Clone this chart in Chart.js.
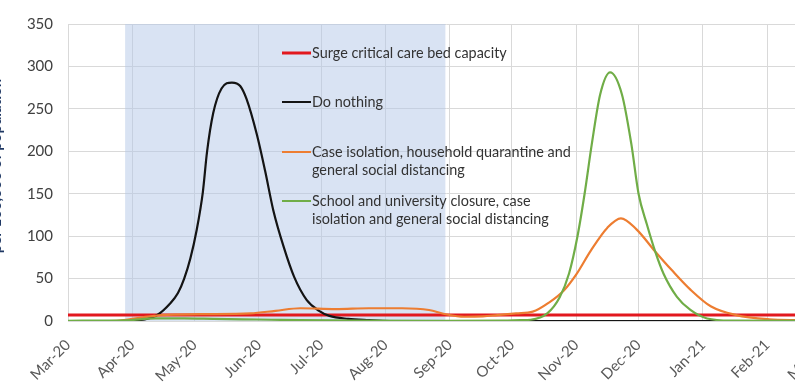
<!DOCTYPE html>
<html><head><meta charset="utf-8">
<script src="https://cdn.jsdelivr.net/npm/chart.js@4.4.1/dist/chart.umd.min.js"></script>
<style>
html,body{margin:0;padding:0;background:#fff;overflow:hidden;width:795px;height:385px}
#wrap{position:absolute;left:0;top:0;width:853px;height:385px}
canvas{display:block}
</style></head><body>
<div id="wrap"><canvas id="c" width="853" height="385"></canvas></div>
<script>
// Days counted from 1 March 2020
const monthDays = [0, 31, 61, 92, 122, 153, 184, 214, 245, 275, 306, 337, 365];
const monthLabels = ['Mar-20','Apr-20','May-20','Jun-20','Jul-20','Aug-20','Sep-20','Oct-20','Nov-20','Dec-20','Jan-21','Feb-21','Mar-21'];
const yTickValues = [0, 50, 100, 150, 200, 250, 300, 350];

const shadeDays = [27.5, 182];
const shadeValues = [350, 350];

const surgeDays = [0, 365];
const surgeValues = [7, 7];

const doNothingDays   = [0, 25, 31, 37, 43, 49, 53, 56, 59, 62, 65, 67, 70, 74, 79, 83, 86, 91, 95, 99, 104, 109, 115, 121, 126, 135, 145, 155, 365];
const doNothingValues = [0, 0, 0.5, 2, 7, 20, 33, 50, 74, 107, 152, 199, 245, 274, 281, 277, 262, 220, 177, 130, 87, 52, 25, 12, 6, 2.5, 1, 0, 0];

const caseIsolationDays   = [0, 20, 27, 35, 45, 64, 88, 100, 112, 129, 145, 161, 174, 182, 191, 200, 207, 216, 224, 232, 239, 245, 252, 260, 266.5, 274, 283, 291, 300, 310, 322, 338, 352, 365];
const caseIsolationValues = [0, 0, 1, 4, 7, 8, 9, 12, 15, 14, 15, 15, 13, 8, 5, 5.5, 7, 9, 11, 22, 36, 55, 83, 110, 121, 108, 82, 60, 37, 17, 7, 2, 1, 0.5];

const schoolDays   = [0, 28, 42, 56, 70, 84, 98, 112, 140, 182, 210, 218, 223, 231, 237, 241.5, 245.5, 249, 252.5, 256.5, 261.3, 267, 271.5, 275, 279, 283, 287, 293.5, 300, 308, 320, 365];
const schoolValues = [0.3, 0.8, 3, 3, 2.5, 2, 1.5, 1, 0.5, 0.3, 0.5, 1, 1.5, 9, 28, 56, 99, 150, 209, 267, 293, 267, 209, 150, 114, 82, 56, 28.5, 13, 3, 0.5, 0.2];

const pts = (xs, ys) => xs.map((x, i) => ({x, y: ys[i]}));

const legendItems = [
  {lines: ['Surge critical care bed capacity'], color: 'rgb(226,24,30)', width: 3},
  {lines: ['Do nothing'], color: '#141414', width: 2},
  {lines: ['Case isolation, household quarantine and', 'general social distancing'], color: '#ed7d31', width: 2},
  {lines: ['School and university closure, case', 'isolation and general social distancing'], color: '#70ad47', width: 2}
];
const yAxisTitle = ['Critical care beds occupied', 'per 100,000 of population'];

const overlay = {
  id: 'overlay',
  afterDatasetsDraw(chart) {
    const ctx = chart.ctx;
    ctx.save();
    const lx = 282, lineLen = 29, tx = 312;
    const rowY = [53, 102, 152, 201];
    ctx.font = '14.4px Lato';
    ctx.textBaseline = 'middle';
    ctx.textAlign = 'left';
    legendItems.forEach((it, i) => {
      const y = rowY[i];
      ctx.strokeStyle = it.color;
      ctx.lineWidth = it.width;
      ctx.beginPath(); ctx.moveTo(lx, y); ctx.lineTo(lx + lineLen, y); ctx.stroke();
      ctx.fillStyle = '#333333';
      it.lines.forEach((t, j) => ctx.fillText(t, tx, y + j * 18.5));
    });
    ctx.restore();
  },
  afterDraw(chart) {
    const ctx = chart.ctx;
    ctx.save();
    ctx.font = 'bold 15px Lato';
    ctx.fillStyle = '#1f3864';
    ctx.textAlign = 'center';
    ctx.textBaseline = 'alphabetic';
    ctx.translate(1, 166);
    ctx.rotate(-Math.PI / 2);
    ctx.fillText(yAxisTitle[1], 0, 0);
    ctx.fillText(yAxisTitle[0], 0, -19);
    ctx.restore();
  }
};

new Chart(document.getElementById('c'), {
  type: 'line',
  data: {
    datasets: [
      {label: 'School and university closure, case isolation and general social distancing', data: pts(schoolDays, schoolValues), borderColor: '#70ad47', borderWidth: 2.2, order: 0},
      {label: 'Case isolation, household quarantine and general social distancing', data: pts(caseIsolationDays, caseIsolationValues), borderColor: '#ed7d31', borderWidth: 2.2, order: 1},
      {label: 'Do nothing', data: pts(doNothingDays, doNothingValues), borderColor: '#141414', borderWidth: 2.2, order: 2},
      {label: 'Surge critical care bed capacity', data: pts(surgeDays, surgeValues), borderColor: 'rgb(226,24,30)', borderWidth: 3, order: 3},
      {label: 'shade', data: pts(shadeDays, shadeValues), borderWidth: 0, borderColor: 'rgba(0,0,0,0)', backgroundColor: 'rgba(180,199,231,0.5)', fill: 'origin', order: 4, tension: 0, cubicInterpolationMode: 'default'}
    ]
  },
  options: {
    responsive: false,
    animation: false,
    layout: {padding: {left: 0, right: 9, top: 23, bottom: 0}},
    elements: {
      point: {radius: 0, hoverRadius: 0},
      line: {cubicInterpolationMode: 'monotone', fill: false, borderCapStyle: 'round', borderJoinStyle: 'round'}
    },
    plugins: {legend: {display: false}, tooltip: {enabled: false}},
    scales: {
      x: {
        type: 'linear', min: 0, max: 365,
        afterBuildTicks: s => { s.ticks = monthDays.map(v => ({value: v})); },
        afterFit: s => { s.height = 64; },
        ticks: {
          autoSkip: false, maxRotation: 45, minRotation: 45, padding: 15,
          color: '#595959', font: {family: 'Lato', size: 15},
          callback: (v, i) => monthLabels[i]
        },
        grid: {color: '#d9d9d9', drawTicks: false, lineWidth: 1},
        border: {color: '#d9d9d9'}
      },
      y: {
        min: 0, max: 350,
        afterBuildTicks: s => { s.ticks = yTickValues.map(v => ({value: v})); },
        afterFit: s => { s.width = 68; },
        ticks: {padding: 15, color: '#404040', font: {family: 'Lato', size: 15}},
        grid: {color: '#d9d9d9', drawTicks: false, lineWidth: 1},
        border: {display: false}
      }
    }
  },
  plugins: [overlay]
});
</script>
</body></html>
